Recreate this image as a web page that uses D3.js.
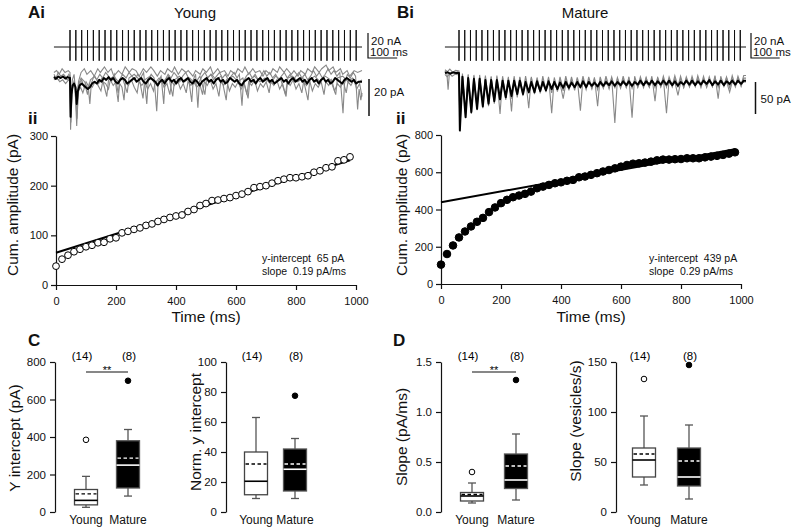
<!DOCTYPE html>
<html>
<head>
<meta charset="utf-8">
<script src="https://cdn.jsdelivr.net/npm/d3@7"></script>
<style>
  body { margin: 0; background: #fff; }
  svg text { font-family: "Liberation Sans", Arial, sans-serif; fill: #111; }
  .axis path, .axis line { stroke: #111; stroke-width: 1.2; }
  .axis text { font-size: 11px; fill: #111; }
  .box-axis text { font-size: 11.5px; }
  .axisLabel { font-size: 15.5px; }
  .panel-letter { font-size: 17px; font-weight: bold; }
</style>
</head>
<body>
<svg id="fig" width="797" height="531"></svg>
<script>
// ---------- DATA ----------
// 50 Hz train: stimulus times (ms)
const stimTimes = [0,20,40,60,80,100,120,140,160,180,200,220,240,260,280,300,320,340,360,380,
  400,420,440,460,480,500,520,540,560,580,600,620,640,660,680,700,720,740,760,780,
  800,820,840,860,880,900,920,940,960,980];
const stimUpNA = 13.6, stimDownNA = -11;

// Young example traces [time ms, current pA]
const youngMean = [[-55,0.5],[-48,-0.5],[-40,0.8],[-32,0],[-24,0.8],[-16,-0.3],[-8,0.5],[0,0],[2,-21],[5,-9],[9,-4],[14,-3],[19,-5],[23,-14],[27,-7],[33,-4],[40,-3],[47,-4],[54,-5],[61,-6],[68,-5],[76,-3],[84,-2],[92,-3],[100,-1],[108,-2],[116,0],[124,-1],[132,0.5],[140,-1],[148,0],[156,-2],[164,-3],[172,-1],[180,0],[188,-1],[196,-3],[204,-2],[212,-1],[220,0],[228,-2],[236,-1],[244,0],[252,-2],[260,-3],[268,-1],[276,0],[284,-1],[292,-2],[300,-4],[308,-2],[316,-1],[324,-3],[332,-1],[340,0],[348,-2],[356,-1],[364,-3],[372,-1],[380,0],[388,-2],[396,-1],[404,0],[412,-2],[420,-3],[428,-1],[436,-2],[444,-4],[452,-2],[460,-1],[468,0],[476,-2],[484,-1],[492,-3],[500,-1],[508,0],[516,-2],[524,-1],[532,-3],[540,-2],[548,0],[556,-1],[564,-2],[572,-1],[580,-3],[588,-4],[596,-2],[604,-1],[612,0],[620,-2],[628,-1],[636,-3],[644,-1],[652,0],[660,-2],[668,-1],[676,0],[684,-2],[692,-1],[700,-3],[708,-2],[716,-1],[724,0],[732,-2],[740,-1],[748,-3],[756,-1],[764,0],[772,-2],[780,-1],[788,0],[796,-2],[804,-1],[812,-3],[820,-1],[828,0],[836,-2],[844,-1],[852,-3],[860,-1],[868,0],[876,-2],[884,-1],[892,-3],[900,-2],[908,0],[916,-1],[924,-2],[932,-3],[940,-1],[948,0],[956,-1],[964,-2],[972,-1],[980,-3],[988,-2],[1000,-2]];

const youngGray1 = [[-55,2],[-48,0],[-40,3],[-32,1],[-22,2],[-12,0],[-4,2],[0,1],[2,-28],[6,-9],[11,-3],[17,-4],[23,-26],[27,-10],[33,-3],[40,-1],[48,-5],[55,-2],[62,-4],[68,-14],[73,-3],[82,1],[92,-1],[102,2],[112,0],[122,3],[132,1],[142,-2],[152,2],[165,-13],[170,-1],[180,2],[192,0],[202,3],[212,1],[222,-1],[232,2],[242,0],[252,3],[263,-14],[268,-1],[278,2],[288,0],[297,-18],[302,-2],[312,1],[321,-14],[326,-1],[336,2],[346,0],[356,3],[366,1],[376,-2],[386,1],[396,3],[406,0],[417,-13],[422,-1],[430,2],[438,-16],[443,-2],[452,1],[462,3],[472,0],[482,2],[492,-1],[502,1],[512,3],[522,0],[532,2],[542,-1],[552,1],[562,3],[572,0],[580,2],[589,-15],[594,-2],[604,1],[614,3],[624,0],[634,2],[644,-1],[654,1],[664,4],[674,1],[684,3],[694,0],[704,2],[714,-1],[724,1],[734,3],[744,0],[754,2],[764,-1],[774,1],[784,3],[794,0],[804,2],[814,-1],[824,1],[834,4],[844,1],[854,3],[864,0],[874,2],[884,5],[894,2],[904,4],[914,1],[924,3],[935,-19],[940,-3],[950,2],[960,0],[970,3],[978,1],[985,-17],[990,-6],[996,-12],[1000,-8]];

const youngGray2 = [[-55,3],[-46,4],[-37,2],[-27,5],[-17,3],[-6,4],[0,3],[3,-14],[8,-1],[14,2],[24,-17],[29,-2],[38,3],[49,5],[58,2],[71,4],[83,1],[95,5],[104,3],[118,6],[130,3],[141,5],[150,1],[166,4],[178,2],[189,6],[203,3],[213,5],[226,4],[237,1],[251,5],[262,3],[277,6],[287,4],[299,1],[310,4],[325,2],[334,5],[349,3],[358,6],[371,2],[383,5],[397,3],[405,4],[421,1],[430,4],[446,2],[455,5],[467,3],[481,6],[490,2],[506,5],[514,3],[529,4],[541,1],[550,4],[566,2],[575,5],[590,3],[599,6],[612,2],[626,5],[635,3],[650,4],[661,1],[671,4],[686,2],[695,5],[710,3],[718,6],[733,3],[742,5],[758,2],[767,4],[781,1],[790,4],[806,2],[814,5],[829,3],[838,6],[853,3],[862,5],[877,7],[886,4],[901,6],[910,3],[926,5],[934,2],[949,4],[958,1],[973,4],[985,3],[1000,4]];

const youngGray3 = [[-55,-1],[-45,0],[-35,-2],[-25,-1],[-15,-3],[-5,-1],[0,-2],[2,-20],[7,-6],[13,-4],[20,-6],[24,-22],[29,-7],[36,-5],[44,-8],[52,-4],[60,-9],[66,-3],[76,-5],[86,-2],[96,-4],[106,-7],[112,-2],[122,-3],[132,-6],[138,-1],[148,-4],[158,-2],[165,-8],[170,-3],[178,-5],[185,-12],[190,-2],[200,-4],[210,-1],[220,-5],[230,-8],[236,-2],[246,-4],[256,-2],[266,-6],[276,-3],[286,-7],[292,-2],[302,-4],[312,-1],[322,-5],[332,-3],[342,-9],[348,-2],[358,-4],[368,-1],[378,-6],[388,-3],[398,-8],[404,-2],[414,-4],[424,-2],[434,-5],[444,-3],[454,-9],[460,-2],[470,-4],[480,-1],[490,-6],[500,-3],[510,-10],[516,-2],[526,-4],[536,-1],[546,-7],[556,-3],[566,-5],[576,-2],[586,-6],[596,-3],[606,-9],[612,-2],[622,-4],[632,-1],[642,-7],[652,-3],[662,-5],[672,-2],[682,-8],[688,-2],[698,-4],[708,-1],[718,-6],[728,-3],[738,-9],[744,-2],[754,-4],[764,-1],[774,-6],[784,-3],[794,-8],[800,-2],[810,-4],[820,-1],[830,-7],[840,-3],[850,-5],[860,-2],[870,-9],[876,-2],[886,-4],[896,-1],[906,-7],[916,-3],[926,-5],[936,-2],[946,-8],[952,-2],[962,-4],[972,-1],[982,-6],[992,-3],[1000,-10]];

const youngGray4 = [[-55,1],[-40,-1],[-25,1],[-10,-1],[0,0],[3,-24],[8,-5],[15,-1],[23,-20],[28,-4],[38,0],[50,-2],[62,-6],[70,-1],[85,1],[98,-3],[110,0],[126,-10],[132,-1],[150,1],[165,-2],[180,0],[196,-8],[202,0],[220,2],[238,-1],[250,-11],[256,-1],[275,1],[290,-3],[305,0],[320,-2],[338,1],[352,-10],[358,-1],[375,1],[392,-2],[410,0],[428,-3],[445,1],[462,-9],[468,0],[485,2],[500,-1],[518,1],[535,-12],[541,-1],[558,1],[575,-2],[592,0],[610,-11],[616,-1],[632,1],[650,-2],[668,0],[686,-3],[704,1],[722,-1],[740,-10],[746,0],[762,1],[780,-2],[798,0],[815,-12],[821,-1],[838,1],[856,-2],[874,1],[892,-1],[910,-9],[916,0],[934,1],[952,-2],[968,0],[982,-3],[1000,-1]];

// Mature example traces: baseline before train, then trough / inter-pulse level per stimulus (pA)
const matureMeanPre = [[-49,0],[-40,1],[-30,-1],[-20,1],[-10,0],[0,0]];
const matureMeanTrough = [-90,-69,-61,-56,-52,-48,-44,-41,-38,-36,-33,-33,-30,-30,-28,-27,-25,-25,-23,-23,-22,-22,-22,-20,-21,-20,-19,-20,-19,-19,-20,-18,-19,-18,-19,-18,-18,-19,-20,-18,-18,-19,-18,-17,-19,-18,-19,-17,-18,-17];
const matureMeanPeak = [-6,-8,-9,-9,-11,-11,-11,-12,-12,-12,-12,-14,-14,-13,-14,-13,-14,-15,-14,-15,-14,-13,-14,-15,-14,-14,-13,-14,-13,-13,-14,-12,-13,-12,-13,-12,-12,-13,-14,-12,-12,-13,-12,-11,-13,-12,-13,-12,-12,-12];

const matureGray1Pre = [[-49,3],[-42,-2],[-38,-26],[-34,-3],[-25,2],[-15,-1],[-5,2],[0,1]];
const matureGray1Trough = [-85,-70,-64,-58,-55,-52,-48,-64,-42,-40,-38,-36,-55,-33,-32,-30,-31,-29,-28,-27,-27,-59,-26,-25,-26,-24,-25,-78,-24,-23,-24,-22,-23,-22,-23,-22,-63,-22,-21,-23,-22,-21,-23,-22,-21,-22,-21,-23,-22,-21];
const matureGray1Peak = [-3,-4,-5,-6,-6,-7,-7,-8,-8,-8,-7,-9,-8,-9,-9,-8,-10,-9,-9,-10,-9,-8,-10,-9,-9,-10,-8,-9,-9,-8,-10,-9,-8,-9,-8,-9,-10,-8,-9,-8,-9,-8,-9,-8,-7,-9,-8,-9,-8,-8];

const matureGray2Pre = [[-49,5],[-40,2],[-32,6],[-22,1],[-12,4],[0,3]];
const matureGray2Trough = [-75,-64,-58,-54,-50,-46,-43,-40,-38,-60,-34,-33,-31,-30,-29,-28,-63,-27,-26,-25,-25,-24,-25,-23,-52,-23,-22,-24,-22,-23,-70,-22,-21,-22,-44,-21,-22,-20,-21,-22,-20,-21,-20,-22,-21,-40,-20,-21,-20,-19];
const matureGray2Peak = [-1,-2,-3,-3,-4,-5,-4,-5,-6,-5,-6,-5,-6,-7,-5,-6,-7,-6,-5,-6,-7,-5,-6,-7,-6,-5,-6,-7,-5,-6,-5,-6,-7,-5,-6,-5,-6,-4,-5,-6,-5,-4,-5,-6,-4,-5,-6,-4,-5,-4];

const matureGray3Pre = [[-49,-2],[-41,-6],[-33,-1],[-24,-5],[-14,-2],[0,-3]];
const matureGray3Trough = [-88,-60,-55,-50,-47,-44,-41,-38,-36,-34,-32,-31,-30,-29,-28,-27,-26,-25,-40,-24,-23,-23,-22,-22,-21,-22,-21,-20,-21,-20,-21,-20,-19,-21,-20,-19,-20,-19,-35,-19,-20,-18,-19,-20,-18,-19,-18,-30,-19,-18];
const matureGray3Peak = [-8,-10,-11,-12,-13,-13,-14,-14,-15,-15,-16,-15,-16,-16,-17,-16,-17,-16,-17,-16,-17,-16,-15,-16,-17,-16,-15,-16,-15,-16,-15,-16,-15,-14,-15,-16,-15,-14,-15,-14,-15,-14,-13,-14,-15,-14,-13,-14,-13,-14];

// Cumulative amplitude (pA) at each stimulus
const youngCum = [38,52,60,67,72,77,80,85,86,93,95,105,108,112,115,120,123,128,132,136,
  139,141,148,152,160,164,170,171,174,176,180,183,188,196,198,200,205,210,213,216,
  216,218,220,227,230,236,238,250,252,258];
const matureCum = [104,161,207,250,282,309,334,355,386,411,434,452,466,475,484,496,514,523,532,541,
  546,554,559,573,577,586,595,604,612,621,630,639,646,648,652,657,664,668,668,670,
  671,675,675,675,680,684,688,693,700,707];
const youngFit = { intercept: 65, slope: 0.19 };
const matureFit = { intercept: 439, slope: 0.29 };

// Population box plots
const groups = ["Young", "Mature"];
const groupN = ["(14)", "(8)"];
const yInterceptStats = [
  { lo: 25, q1: 38, med: 62, mean: 97, q3: 120, hi: 190, out: 385 },
  { lo: 85, q1: 128, med: 250, mean: 287, q3: 380, hi: 440, out: 700 }];
const normInterceptStats = [
  { lo: 9, q1: 11.5, med: 20.5, mean: 32, q3: 40, hi: 63, out: null },
  { lo: 9, q1: 14, med: 28.5, mean: 32, q3: 42, hi: 49, out: 77.5 }];
const slopeStats = [
  { lo: 0.09, q1: 0.11, med: 0.16, mean: 0.175, q3: 0.195, hi: 0.29, out: 0.40 },
  { lo: 0.12, q1: 0.235, med: 0.32, mean: 0.46, q3: 0.58, hi: 0.78, out: 1.32 }];
const vesicleStats = [
  { lo: 27, q1: 35, med: 52, mean: 58, q3: 64, hi: 96, out: 133 },
  { lo: 13, q1: 26, med: 35, mean: 51, q3: 64, hi: 87, out: 147 }];

// ---------- DRAWING ----------
const svg = d3.select("#fig");

function text(x, y, str, cls, anchor) {
  return svg.append("text").attr("x", x).attr("y", y)
    .attr("class", cls || null)
    .attr("text-anchor", anchor || "start")
    .text(str);
}

// expand per-stimulus trough/peak lists into [t, v] pairs
function trainPairs(pre, troughs, peaks) {
  const out = pre.slice();
  stimTimes.forEach((s, i) => {
    out.push([s + 3, troughs[i]]);
    out.push([s + 12, peaks[i]]);
  });
  out.push([1000, peaks[peaks.length - 1]]);
  return out;
}

function tracePanel(cfg) {
  const x = d3.scaleLinear().domain([0, 1000]).range([cfg.x0, cfg.x0 + 1000 * cfg.pxPerMs]);
  const yStim = d3.scaleLinear().domain([0, 20]).range([47, 22]);

  // stimulus trace
  const p = d3.path();
  p.moveTo(x(cfg.tStart), yStim(0));
  stimTimes.forEach(s => {
    p.lineTo(x(s), yStim(0));
    p.lineTo(x(s), yStim(stimUpNA));
    p.lineTo(x(s), yStim(stimDownNA));
    p.lineTo(x(s), yStim(0));
  });
  p.lineTo(x(cfg.tEnd), yStim(0));
  svg.append("path").attr("d", p.toString())
    .style("fill", "none").style("stroke", "#111").style("stroke-width", 1);

  // stim scale bar (20 nA / 100 ms)
  const sb = d3.path();
  sb.moveTo(cfg.barX, yStim(0) - 14);
  sb.lineTo(cfg.barX, yStim(0) - 14 + (yStim(0) - yStim(20)));
  sb.lineTo(cfg.barX + x(100) - x(0), yStim(0) - 14 + (yStim(0) - yStim(20)));
  svg.append("path").attr("d", sb.toString())
    .style("fill", "none").style("stroke", "#111").style("stroke-width", 1.2);
  svg.append("text").attr("x", cfg.barX + 3).attr("y", 45).style("font-size", "11.5px").text("20 nA");
  svg.append("text").attr("x", cfg.barX + 2).attr("y", 56).style("font-size", "11.5px").text("100 ms");

  // responses
  const yR = d3.scaleLinear().domain([0, -cfg.barPA]).range([cfg.base, cfg.base + cfg.barPx]);
  const line = d3.line().x(d => x(d[0])).y(d => yR(d[1]));
  cfg.grays.forEach(g => {
    svg.append("path").datum(g).attr("d", line)
      .style("fill", "none").style("stroke", "#888").style("stroke-width", 1.1);
  });
  svg.append("path").datum(cfg.mean).attr("d", line)
    .style("fill", "none").style("stroke", "#000").style("stroke-width", 2)
    .style("stroke-linejoin", "round");

  svg.append("line")
    .attr("x1", cfg.rBarX).attr("x2", cfg.rBarX)
    .attr("y1", cfg.rBarTop).attr("y2", cfg.rBarTop + (yR(-cfg.barPA) - yR(0)))
    .style("stroke", "#111").style("stroke-width", 1.5);
  svg.append("text").attr("x", cfg.rBarX + 5).attr("y", cfg.rBarText)
    .style("font-size", "11.5px").text(cfg.barPA + " pA");
}

function cumPanel(cfg) {
  const x = d3.scaleLinear().domain([0, 1000]).range([cfg.ax, cfg.ax + 300]);
  const y = d3.scaleLinear().domain([0, cfg.ymax]).range([cfg.y0, cfg.yTop]);
  const g = svg.append("g");

  g.append("g").attr("class", "axis").attr("transform", `translate(0,${cfg.y0})`)
    .call(d3.axisBottom(x).tickValues([0, 200, 400, 600, 800, 1000]).tickFormat(d3.format("d"))
      .tickSize(5).tickSizeOuter(0).tickPadding(7));
  g.append("g").attr("class", "axis").attr("transform", `translate(${cfg.ax},0)`)
    .call(d3.axisLeft(y).tickValues(cfg.yTicks).tickFormat(d3.format("d"))
      .tickSize(5).tickSizeOuter(0).tickPadding(3));

  // fit line
  g.append("line")
    .attr("x1", x(0)).attr("y1", y(cfg.fit.intercept))
    .attr("x2", x(980)).attr("y2", y(cfg.fit.intercept + cfg.fit.slope * 980))
    .style("stroke", "#000").style("stroke-width", 2);

  g.selectAll(null).data(cfg.values).join("circle")
    .attr("cx", (d, i) => x(stimTimes[i]))
    .attr("cy", d => y(d))
    .attr("r", cfg.filled ? 3.8 : 3.4)
    .style("fill", cfg.filled ? "#000" : "#fff")
    .style("stroke", "#000").style("stroke-width", 1);

  g.append("text").attr("class", "axisLabel")
    .attr("x", cfg.ax + 150).attr("y", 322).attr("text-anchor", "middle").text("Time (ms)");
  g.append("text").attr("class", "axisLabel")
    .attr("transform", `translate(${cfg.labelX},${205}) rotate(-90)`)
    .attr("text-anchor", "middle").attr("dominant-baseline", "central")
    .text("Cum. amplitude (pA)");

  g.append("text").attr("x", cfg.noteX).attr("y", 262).style("font-size", "10.5px")
    .style("white-space", "pre").text(`y-intercept  ${cfg.fit.intercept} pA`);
  g.append("text").attr("x", cfg.noteX).attr("y", 275).style("font-size", "10.5px")
    .style("white-space", "pre").text(`slope  ${cfg.fit.slope.toFixed(2)} pA/ms`);
}

function boxPanel(cfg) {
  const y = d3.scaleLinear().domain([0, cfg.ymax]).range([512, 362]);
  const x = d3.scalePoint().domain(groups).range([cfg.ax + cfg.c0, cfg.ax + cfg.c1]);
  const g = svg.append("g");
  const bw = 23, cap = 8;

  g.append("g").attr("class", "axis box-axis").attr("transform", `translate(${cfg.ax},0)`)
    .call(d3.axisLeft(y).tickValues(cfg.ticks).tickFormat(cfg.fmt)
      .tickSize(5).tickSizeOuter(0).tickPadding(4));

  cfg.stats.forEach((s, i) => {
    const cx = x(groups[i]);
    const mature = i === 1;
    const inner = mature ? "#fff" : "#000";
    // whiskers
    [[s.lo, s.q1], [s.q3, s.hi]].forEach(([a, b]) => {
      g.append("line").attr("x1", cx).attr("x2", cx).attr("y1", y(a)).attr("y2", y(b))
        .style("stroke", "#555").style("stroke-width", 1.3);
    });
    [s.lo, s.hi].forEach(v => {
      g.append("line").attr("x1", cx - cap / 2).attr("x2", cx + cap / 2)
        .attr("y1", y(v)).attr("y2", y(v))
        .style("stroke", "#555").style("stroke-width", 1.3);
    });
    g.append("rect")
      .attr("x", cx - bw / 2).attr("y", y(s.q3))
      .attr("width", bw).attr("height", y(s.q1) - y(s.q3))
      .style("fill", mature ? "#000" : "#fff")
      .style("stroke", mature ? "#555" : "#444").style("stroke-width", 1.3);
    g.append("line").attr("x1", cx - bw / 2).attr("x2", cx + bw / 2)
      .attr("y1", y(s.med)).attr("y2", y(s.med))
      .style("stroke", inner).style("stroke-width", 1.6);
    g.append("line").attr("x1", cx - bw / 2 + 1).attr("x2", cx + bw / 2 - 1)
      .attr("y1", y(s.mean)).attr("y2", y(s.mean))
      .style("stroke", inner).style("stroke-width", 1.3).style("stroke-dasharray", "3.5,2.5");
    if (s.out !== null) {
      g.append("circle").attr("cx", cx).attr("cy", y(s.out)).attr("r", 2.8)
        .style("fill", mature ? "#000" : "#fff").style("stroke", "#000").style("stroke-width", 1);
    }
    g.append("text").attr("x", cx).attr("y", 524).attr("text-anchor", "middle")
      .style("font-size", "12px").text(groups[i]);
    g.append("text").attr("x", cx + (mature ? 1 : -4)).attr("y", 360).attr("text-anchor", "middle")
      .style("font-size", "11.5px").style("fill", "#000").text(groupN[i]);
  });

  if (cfg.sig) {
    g.append("line")
      .attr("x1", x(groups[0])).attr("x2", x(groups[1]))
      .attr("y1", 372).attr("y2", 372)
      .style("stroke", "#111").style("stroke-width", 1.2);
    g.append("text").attr("x", (x(groups[0]) + x(groups[1])) / 2).attr("y", 374)
      .attr("text-anchor", "middle").style("font-size", "11px").style("fill", "#000").text("**");
  }

  g.append("text").attr("class", "axisLabel")
    .attr("transform", `translate(${cfg.labelX},${cfg.labelY}) rotate(-90)`)
    .attr("text-anchor", "middle").attr("dominant-baseline", "central")
    .text(cfg.label);
}

// ---- panel letters & titles
text(28, 18, "Ai", "panel-letter");
text(397, 18, "Bi", "panel-letter");
text(28, 124, "ii", "panel-letter");
text(396, 124, "ii", "panel-letter");
text(28, 346, "C", "panel-letter");
text(393, 346, "D", "panel-letter");
svg.append("text").attr("x", 195).attr("y", 18).attr("text-anchor", "middle")
  .style("font-size", "15px").text("Young");
svg.append("text").attr("x", 585).attr("y", 18).attr("text-anchor", "middle")
  .style("font-size", "15px").text("Mature");

// ---- traces
tracePanel({
  x0: 70, pxPerMs: 0.292, tStart: -55, tEnd: 1000, barX: 368,
  base: 78, barPA: 20, barPx: 37, rBarX: 369, rBarTop: 79, rBarText: 96,
  grays: [youngGray1, youngGray2, youngGray3, youngGray4], mean: youngMean
});
tracePanel({
  x0: 459, pxPerMs: 0.287, tStart: -49, tEnd: 1000, barX: 751,
  base: 73, barPA: 50, barPx: 32, rBarX: 755.5, rBarTop: 82, rBarText: 103,
  grays: [
    trainPairs(matureGray1Pre, matureGray1Trough, matureGray1Peak),
    trainPairs(matureGray2Pre, matureGray2Trough, matureGray2Peak),
    trainPairs(matureGray3Pre, matureGray3Trough, matureGray3Peak)],
  mean: trainPairs(matureMeanPre, matureMeanTrough, matureMeanPeak)
});

// ---- cumulative amplitude
cumPanel({ ax: 56, y0: 285, yTop: 136, ymax: 300, yTicks: [0, 100, 200, 300],
  values: youngCum, fit: youngFit, filled: false, labelX: 12, noteX: 262 });
cumPanel({ ax: 441, y0: 284, yTop: 135, ymax: 800, yTicks: [0, 200, 400, 600, 800],
  values: matureCum, fit: matureFit, filled: true, labelX: 401, noteX: 649 });

// ---- box plots
boxPanel({ ax: 55, c0: 31, c1: 73, ymax: 800, ticks: [0, 200, 400, 600, 800], fmt: d3.format("d"),
  stats: yInterceptStats, sig: true, label: "Y intercept (pA)", labelX: 14, labelY: 438 });
boxPanel({ ax: 226, c0: 30, c1: 69, ymax: 100, ticks: [0, 20, 40, 60, 80, 100], fmt: d3.format("d"),
  stats: normInterceptStats, sig: false, label: "Norm. y intercept", labelX: 195, labelY: 432 });
boxPanel({ ax: 441, c0: 31, c1: 75, ymax: 1.5, ticks: [0, 0.5, 1.0, 1.5], fmt: d3.format(".1f"),
  stats: slopeStats, sig: true, label: "Slope (pA/ms)", labelX: 401, labelY: 437 });
boxPanel({ ax: 616, c0: 28, c1: 73, ymax: 150, ticks: [0, 50, 100, 150], fmt: d3.format("d"),
  stats: vesicleStats, sig: false, label: "Slope (vesicles/s)", labelX: 575, labelY: 421 });
</script>
</body>
</html>
